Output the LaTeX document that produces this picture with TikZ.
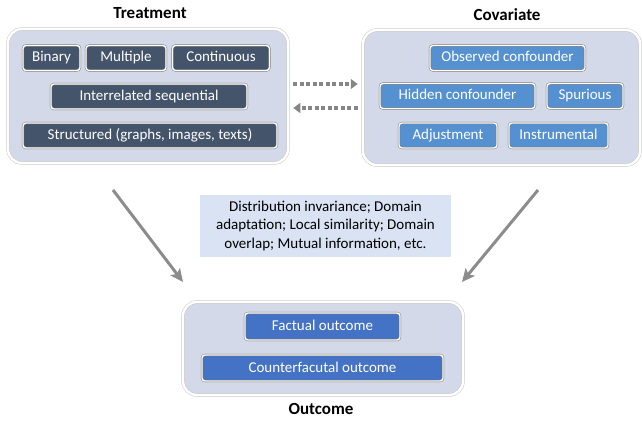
\documentclass[tikz,border=0pt]{standalone}
\usepackage{fontspec}
\setmainfont{Carlito}
\usetikzlibrary{arrows.meta,positioning}

\definecolor{panel}{HTML}{D3D9E8}
\definecolor{slate}{HTML}{44546A}
\definecolor{sky}{HTML}{5591D0}
\definecolor{royal}{HTML}{4472C4}
\definecolor{note}{HTML}{DAE3F3}

\tikzset{
  panel/.style={draw=gray!45, double=white, double distance=2.4pt, line width=0.5pt,
    fill=panel, rounded corners=14pt, inner sep=0pt},
  tag/.style={draw=black!55, double=white, double distance=1.4pt, line width=0.4pt,
    rounded corners=3pt, text=white, minimum height=25pt, inner sep=0pt,
    text height=10pt, text depth=2pt,
    font=\fontsize{15}{17}\selectfont},
  treattag/.style={tag, fill=slate},
  covtag/.style={tag, fill=sky},
  outtag/.style={tag, fill=royal},
  title/.style={font=\fontsize{17}{19}\selectfont\bfseries},
  dotarrow/.style={draw=gray!95, line width=3.6pt, dash pattern=on 4pt off 2.5pt,
    -{Triangle[length=7pt,width=10pt]}, shorten <=5pt, shorten >=5pt},
  bigarrow/.style={draw=gray!90, line width=3pt, -{Stealth[length=13pt,width=12pt,inset=3pt]}}
}

\begin{document}
\begin{tikzpicture}[x=1pt,y=-1pt]
\useasboundingbox (0,0) rectangle (642,422);

% treatment
\node[panel, minimum width=280pt, minimum height=134pt] (treat) at (148,96) {};
\node[title] (treattitle) at (150,13) {Treatment};
\node[treattag, minimum width=57pt] (binary) at (51.5,58) {Binary};
\node[treattag, minimum width=80pt] (multi) at (126,58) {Multiple};
\node[treattag, minimum width=97pt] (cont) at (221,58) {Continuous};
\node[treattag, minimum width=196pt] (seq) at (149,96.5) {Interrelated sequential};
\node[treattag, minimum width=254pt] (struct) at (150,135.5) {Structured (graphs, images, texts)};

% covariate
\node[panel, minimum width=277pt, minimum height=135pt] (cov) at (501.5,97.5) {};
\node[title] (covtitle) at (507,15) {Covariate};
\node[covtag, minimum width=155pt] (obs) at (507.5,58) {Observed confounder};
\node[covtag, minimum width=155pt] (hid) at (457.5,96) {Hidden confounder};
\node[covtag, minimum width=76pt] (spur) at (585,96) {Spurious};
\node[covtag, minimum width=98pt] (adj) at (448,135.5) {Adjustment};
\node[covtag, minimum width=99pt] (inst) at (558.5,135.5) {Instrumental};

% outcome
\node[panel, minimum width=280pt, minimum height=93pt] (out) at (323,348.5) {};
\node[title] (outtitle) at (321,409) {Outcome};
\node[outtag, minimum width=155pt, minimum height=27pt] (fact) at (322.5,326.5) {Factual outcome};
\node[outtag, minimum width=241pt, minimum height=26pt] (cf) at (322.5,368) {Counterfacutal outcome};

% note
\node[fill=note, minimum width=251pt, minimum height=62pt, align=center,
  font=\fontsize{15}{18.5}\selectfont] (bridge) at (325.5,226)
  {Distribution invariance; Domain\\ adaptation; Local similarity; Domain\\ overlap; Mutual information, etc.};

% arrows
\draw[dotarrow] ([yshift=12pt]treat.east) -- ([yshift=12pt]treat.east -| cov.west);
\draw[dotarrow] ([yshift=-12pt]treat.east -| cov.west) -- ([yshift=-12pt]treat.east);

\coordinate (tfrom) at (113,190);
\coordinate (tto) at (183,282);
\coordinate (cfrom) at (538,190);
\coordinate (cto) at (462,282);
\draw[bigarrow] (tfrom) -- (tto);
\draw[bigarrow] (cfrom) -- (cto);
\end{tikzpicture}
\end{document}
